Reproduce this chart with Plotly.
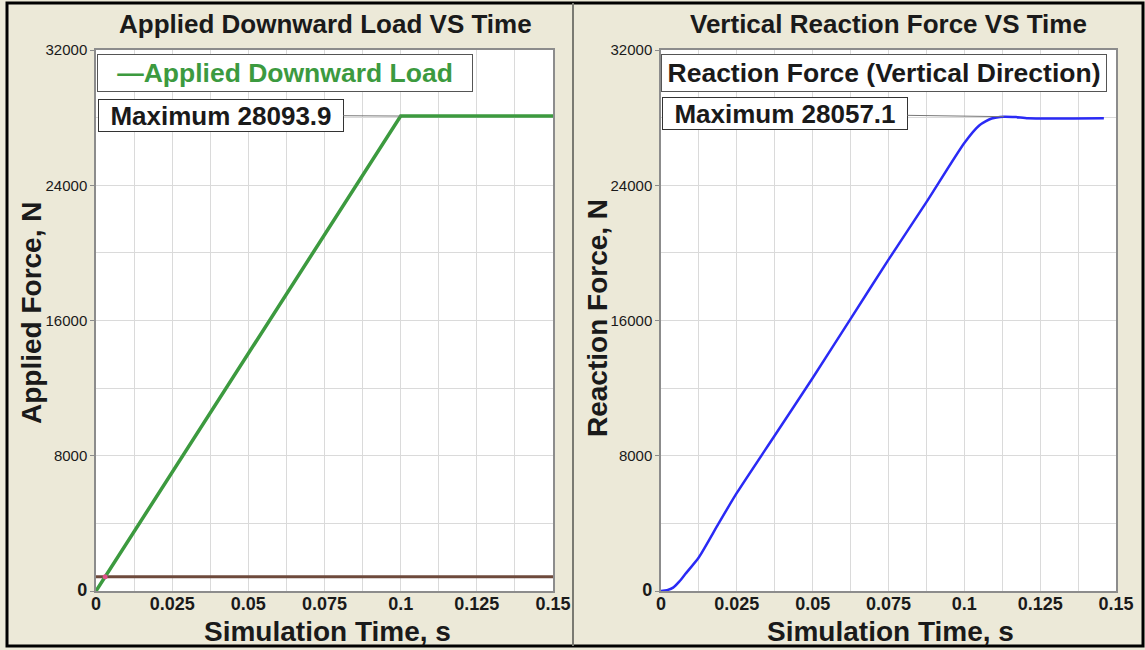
import plotly.graph_objects as go

# ---- data -------------------------------------------------------------
# Applied downward load: linear ramp to peak, then held
load_t = [0.0, 0.1, 0.15]
load_f = [0.0, 28093.9, 28093.9]

# Reference level line in the applied-load panel
base_t = [0.0, 0.15]
base_f = [850.0, 850.0]
cross_t = [0.003]
cross_f = [850.0]

# Vertical reaction force
react_t = [0.0, 0.002, 0.004, 0.006, 0.008, 0.0125, 0.019, 0.025, 0.0375, 0.05,
           0.0625, 0.075, 0.0875, 0.1, 0.105, 0.109, 0.113, 0.117, 0.121, 0.146]
react_f = [0.0, 50, 200, 550, 1000, 2000, 4000, 5800, 9200, 12600,
           16100, 19600, 23000, 26500, 27550, 27950, 28057.1, 28030, 27960, 27960]

load_name = "Applied Downward Load"
react_name = "Reaction Force (Vertical Direction)"

load_peak = (0.1, 28093.9)
react_peak = (0.113, 28057.1)

x_ticks = [0, 0.025, 0.05, 0.075, 0.1, 0.125, 0.15]
y_ticks = [0, 8000, 16000, 24000, 32000]

# ---- styling ----------------------------------------------------------
FONT = "Liberation Sans, Arial, sans-serif"
BG = "#ECE9D8"
GRID = "#DADADA"
GREEN = "#3C9A3F"
BLUE = "#2A2AF5"
BROWN = "#6E4A3C"
INK = "#1a1a1a"

W, H = 1145, 650
plot_top, plot_bot = 50, 591
left_x = (96, 553)
right_x = (661, 1116)


def px(x):
    return x / W


def py(y):
    return 1 - y / H


fig = go.Figure()

fig.add_trace(go.Scatter(x=base_t, y=base_f, mode="lines",
                         line=dict(color=BROWN, width=3), showlegend=False,
                         xaxis="x", yaxis="y"))
fig.add_trace(go.Scatter(x=load_t, y=load_f, mode="lines", name=load_name,
                         line=dict(color=GREEN, width=3.5), showlegend=False,
                         xaxis="x", yaxis="y"))
fig.add_trace(go.Scatter(x=cross_t, y=cross_f, mode="markers",
                         marker=dict(color="#E0508A", size=5), showlegend=False,
                         xaxis="x", yaxis="y"))
fig.add_trace(go.Scatter(x=react_t, y=react_f, mode="lines", name=react_name,
                         line=dict(color=BLUE, width=2.5, shape="spline", smoothing=0.6),
                         showlegend=False, xaxis="x2", yaxis="y2"))

y_ticktext = ["<b><span style='font-size:18px'>0</span></b>"] + [str(v) for v in y_ticks[1:]]

xaxis_common = dict(
    range=[0, 0.15], tickvals=x_ticks, ticktext=[str(v) for v in x_ticks],
    tickfont=dict(family=FONT, size=18, color=INK, weight="bold"),
    ticklabelstandoff=-4,
    showgrid=True, gridcolor=GRID, gridwidth=1,
    minor=dict(dtick=0.0125, tick0=0, showgrid=True, gridcolor=GRID, gridwidth=1),
    showline=True, linecolor="#8C8C8C", linewidth=1.5, mirror=True,
    ticks="", zeroline=False, fixedrange=True, automargin=False,
)
yaxis_common = dict(
    range=[0, 32000], tickvals=y_ticks, ticktext=y_ticktext,
    tickfont=dict(family=FONT, size=15, color=INK),
    showgrid=True, gridcolor=GRID, gridwidth=1,
    minor=dict(dtick=4000, tick0=0, showgrid=True, gridcolor=GRID, gridwidth=1),
    showline=True, linecolor="#8C8C8C", linewidth=1.5, mirror=True,
    ticks="outside", ticklen=4, tickcolor="#8C8C8C", zeroline=False,
    domain=[py(plot_bot), py(plot_top)], fixedrange=True, automargin=False,
)

fig.update_layout(
    width=W, height=H,
    margin=dict(l=0, r=0, t=0, b=0, pad=0, autoexpand=False),
    paper_bgcolor=BG, plot_bgcolor="white",
    font=dict(family=FONT, color=INK),
    xaxis=dict(xaxis_common, domain=[px(left_x[0]), px(left_x[1])], anchor="y"),
    yaxis=dict(yaxis_common, anchor="x"),
    xaxis2=dict(xaxis_common, domain=[px(right_x[0]), px(right_x[1])], anchor="y2"),
    yaxis2=dict(yaxis_common, anchor="x2"),
    showlegend=False,
)


def label(text, x, y, size, angle=0):
    return dict(text="<b>%s</b>" % text, x=px(x), y=py(y), xref="paper", yref="paper",
                xanchor="center", yanchor="middle", showarrow=False, textangle=angle,
                font=dict(family=FONT, size=size, color=INK))


def key_box(text, x, width, color):
    return dict(text="<b>%s</b>" % text, x=px(x), y=py(54),
                xref="paper", yref="paper", xanchor="left", yanchor="top", showarrow=False,
                width=width, height=32, align="center",
                bgcolor="white", bordercolor="#555555", borderwidth=1, borderpad=2,
                font=dict(family=FONT, size=26.5, color=color))


def peak_box(value_xy, xref, yref, ax, ay):
    return dict(text="<b>Maximum %.1f</b>" % value_xy[1], x=value_xy[0], y=value_xy[1],
                xref=xref, yref=yref, showarrow=True, arrowhead=0, arrowwidth=1,
                arrowcolor="#777777", ax=ax, ay=ay, standoff=0,
                width=242, height=29, borderpad=1,
                bgcolor="white", bordercolor="#333333", borderwidth=1,
                font=dict(family=FONT, size=26, color=INK))


annotations = [
    # panel titles
    label("Applied Downward Load VS Time", 325, 24, 26),
    label("Vertical Reaction Force VS Time", 888, 24, 26),
    # axis titles
    label("Simulation Time, s", 327, 631, 28),
    label("Simulation Time, s", 890, 631, 28),
    label("Applied Force, N", 32, 313, 28, -90),
    label("Reaction Force, N", 597, 318, 28, -90),
    # series keys
    key_box("\u2014" + load_name, 97, 370, GREEN),
    key_box(react_name, 661, 440, INK),
    # maximum call-outs
    peak_box(load_peak, "x", "y", -180, -1),
    peak_box(react_peak, "x2", "y2", -219, -3),
]
fig.update_layout(annotations=annotations)

# outer frame and panel divider
fig.add_shape(type="rect", xref="paper", yref="paper",
              x0=px(7), x1=px(1143), y0=py(646), y1=py(3),
              line=dict(color="black", width=3), layer="above")
fig.add_shape(type="line", xref="paper", yref="paper",
              x0=px(573), x1=px(573), y0=py(646), y1=py(3),
              line=dict(color="#7A7A72", width=2), layer="above")

fig.write_html("out.html", post_script="document.body.style.margin='0';")
